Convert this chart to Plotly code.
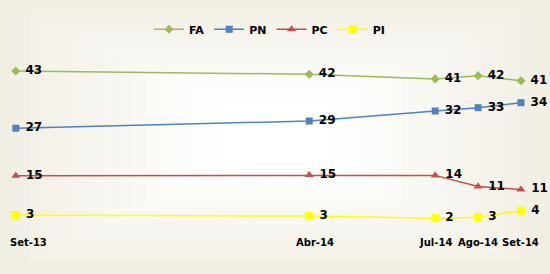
import plotly.graph_objects as go

# ---- data ----
dates = ["2013-09-01", "2014-04-01", "2014-07-01", "2014-08-01", "2014-09-01"]
tick_labels = ["Set-13", "Abr-14", "Jul-14", "Ago-14", "Set-14"]

fa = [43.0, 42.1, 40.8, 41.7, 40.3]
pn = [27.1, 29.1, 31.9, 32.8, 34.2]
pc = [13.9, 14.1, 14.0, 10.9, 10.1]
pi = [3.0, 2.7, 2.1, 2.4, 4.2]

fa_lbl = [43, 42, 41, 42, 41]
pn_lbl = [27, 29, 32, 33, 34]
pc_lbl = [15, 15, 14, 11, 11]
pi_lbl = [3, 3, 2, 3, 4]

series = [
    ("FA", fa, fa_lbl, "#9BBB59", "diamond", 7),
    ("PN", pn, pn_lbl, "#4F81BD", "square", 7),
    ("PC", pc, pc_lbl, "#C0504D", "triangle-up", 8),
    ("PI", pi, pi_lbl, "#FFFF00", "square", 8),
]

fig = go.Figure()
for name, vals, lbls, col, sym, sz in series:
    fig.add_trace(go.Scatter(
        x=dates, y=vals, name=name, mode="lines+markers+text",
        text=[str(v) for v in lbls], texttemplate=" %{text}",
        textposition="middle right",
        textfont=dict(family="DejaVu Sans", size=12, color="#000000", weight="bold"),
        line=dict(color=col, width=1.5),
        marker=dict(symbol=sym, size=sz, color=col),
        cliponaxis=False,
    ))

# background gradient (outer beige -> white centre)
shapes = []
n = 16
c0 = (241, 239, 228)
c1 = (255, 255, 255)
for i in range(n):
    t = i / (n - 1)
    c = tuple(int(round(c0[k] + (c1[k] - c0[k]) * t)) for k in range(3))
    dx = 0.40 * t
    dy = 0.38 * t
    shapes.append(dict(type="rect", xref="paper", yref="paper",
                       x0=dx, x1=1 - dx, y0=dy, y1=1 - dy,
                       fillcolor="rgb(%d,%d,%d)" % c, line=dict(width=0),
                       layer="below"))

# x tick labels as annotations (Excel-style shifted first labels)
shifts = [13, 6, 0, 0, 0]
annotations = []
for d, lab, s in zip(dates, tick_labels, shifts):
    annotations.append(dict(x=d, y=0, xref="x", yref="paper", yshift=32,
                            text=lab, showarrow=False, xshift=s,
                            font=dict(family="DejaVu Sans", size=10, color="#000000",
                                      weight="bold"),
                            xanchor="center", yanchor="middle"))

fig.update_layout(
    width=550, height=274,
    margin=dict(l=0, r=0, t=0, b=0),
    paper_bgcolor="#F1EFE4",
    plot_bgcolor="rgba(0,0,0,0)",
    shapes=shapes,
    annotations=annotations,
    showlegend=True,
    legend=dict(orientation="h", x=0.49, xanchor="center", y=0.893, yanchor="middle",
                bgcolor="rgba(0,0,0,0)",
                font=dict(family="DejaVu Sans", size=11, color="#000000", weight="bold"),
                itemwidth=30, tracegroupgap=0),
    xaxis=dict(type="date", range=["2013-08-20 13:26", "2014-09-21 23:00"],
               visible=False, showgrid=False, zeroline=False),
    yaxis=dict(range=[-13.39, 62.72], visible=False, showgrid=False, zeroline=False),
    font=dict(family="DejaVu Sans"),
)
fig.write_html("out.html")
